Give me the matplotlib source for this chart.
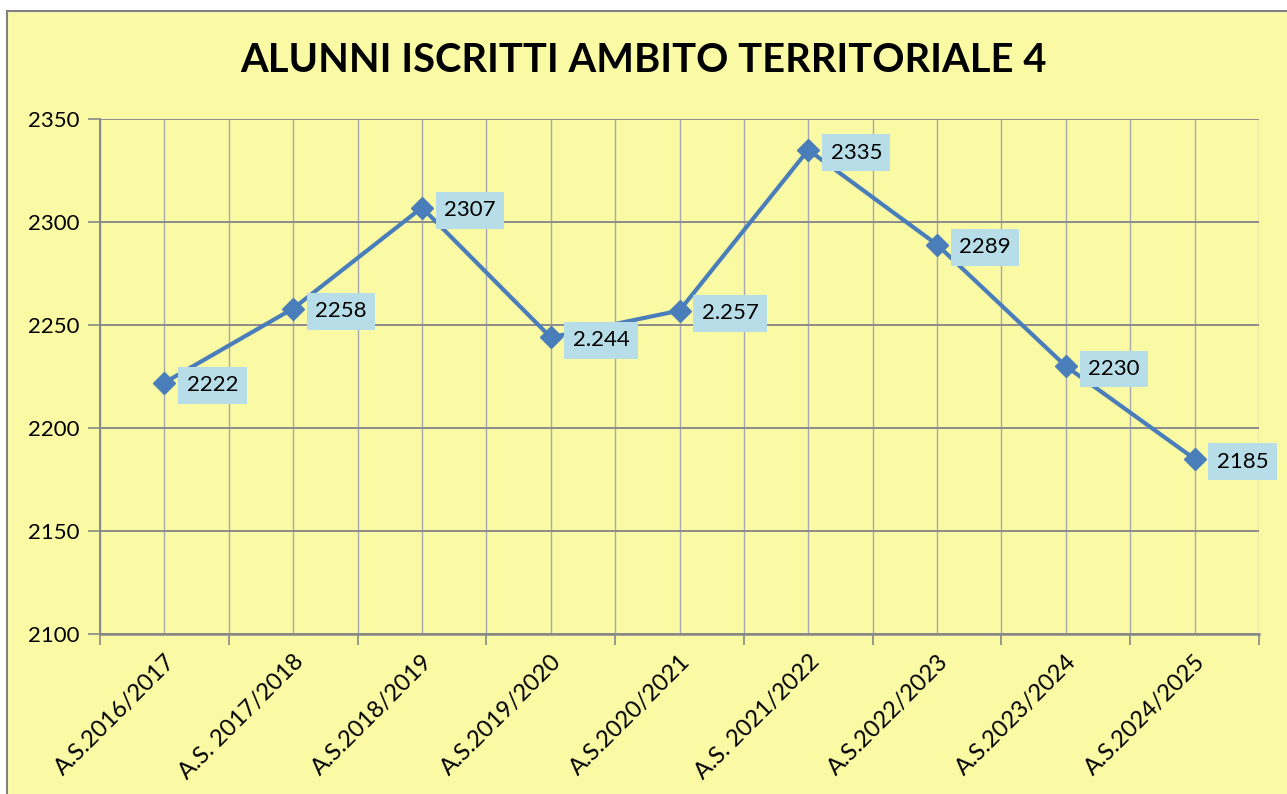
import numpy as np
import matplotlib.pyplot as plt

# dati del grafico
anni = ['A.S.2016/2017', 'A.S. 2017/2018', 'A.S.2018/2019', 'A.S.2019/2020',
        'A.S.2020/2021', 'A.S. 2021/2022', 'A.S.2022/2023', 'A.S.2023/2024',
        'A.S.2024/2025']
alunni = [2222, 2258, 2307, 2244, 2257, 2335, 2289, 2230, 2185]
etichette = ['2222', '2258', '2307', '2.244', '2.257', '2335', '2289', '2230', '2185']
y_ticks = [2100, 2150, 2200, 2250, 2300, 2350]

giallo = '#FAFAA5'
blu = '#4A7EBB'
celeste = '#B7DEE8'

plt.rcParams['font.family'] = ['Lato', 'DejaVu Sans']

fig = plt.figure(figsize=(12.87, 7.94), dpi=100, facecolor=giallo)
ax = fig.add_axes([100 / 1287, 1 - 634 / 794, 1159 / 1287, 515 / 794])
ax.set_facecolor(giallo)

x = np.arange(len(anni))
ax.plot(x, alunni, color=blu, lw=3, marker='D', ms=11, mfc=blu, mec=blu, zorder=3)

for xi, yi, lab in zip(x, alunni, etichette):
    ax.annotate(lab, (xi, yi), xytext=(16, -2), textcoords='offset points',
                ha='left', va='center', fontsize=16,
                bbox=dict(boxstyle='square,pad=0.38', fc=celeste, ec='none'), zorder=4)

ax.set_xlim(-0.5, len(anni) - 0.5)
ax.set_ylim(2100, 2350)
ax.set_yticks(y_ticks)
ax.set_yticklabels([str(v) for v in y_ticks], fontsize=16)

# griglia verticale: confini delle categorie e centri
ax.set_xticks(np.arange(-0.5, len(anni), 1.0))
ax.set_xticklabels([])
ax.set_xticks(x, minor=True)
ax.set_xticklabels(anni, minor=True, rotation=45, ha='right', va='top',
                   rotation_mode='anchor', fontsize=17)
ax.tick_params(axis='x', which='major', length=8, width=1.2, color='#888888', direction='out')
ax.tick_params(axis='x', which='minor', length=0, pad=12)
ax.tick_params(axis='y', length=9, width=1.2, color='#888888', direction='out', pad=6)

ax.grid(True, axis='x', which='both', color='#A8A8B0', lw=1)
ax.grid(True, axis='y', which='major', color='#8C8C8C', lw=1.4)
ax.set_axisbelow(True)

for s in ['top', 'right']:
    ax.spines[s].set_visible(False)
ax.spines['left'].set_color('#888888')
ax.spines['left'].set_linewidth(1.4)
ax.spines['bottom'].set_color('#888888')
ax.spines['bottom'].set_linewidth(1.8)

fig.text(0.5, 1 - 60 / 794, 'ALUNNI ISCRITTI AMBITO TERRITORIALE 4', ha='center', va='center',
         fontsize=28.7, fontweight='bold')

# cornice del grafico (solo sinistra e alto visibili)
fig.add_artist(plt.Line2D([7 / 1287, 7 / 1287], [0, 1 - 11 / 794], color='#808080', lw=1.5))
fig.add_artist(plt.Line2D([7 / 1287, 1], [1 - 11 / 794, 1 - 11 / 794], color='#808080', lw=1.5))
fig.patches.append(plt.Rectangle((0, 0), 7 / 1287, 1, transform=fig.transFigure,
                                 color='white', zorder=-1))
fig.patches.append(plt.Rectangle((0, 1 - 11 / 794), 1, 11 / 794, transform=fig.transFigure,
                                 color='white', zorder=-1))

fig.savefig('out.png', dpi=100, facecolor=giallo)
